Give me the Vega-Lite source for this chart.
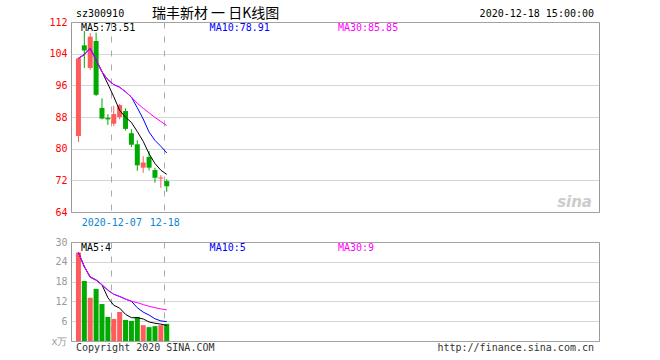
{
  "$schema": "https://vega.github.io/schema/vega-lite/v6.json",
  "background": "white",
  "padding": {"left": 48, "top": 6, "right": 10, "bottom": 4},
  "spacing": 30,
  "bounds": "flush",
  "config": {
    "view": {"stroke": "#999999", "strokeWidth": 1},
    "axis": {"domain": false, "ticks": false, "tickCount": 50, "labelFont": "DejaVu Sans Mono", "labelFontSize": 10, "labelFlush": false, "labelOverlap": false, "labelBound": false},
    "text": {"font": "DejaVu Sans Mono", "fontSize": 10}
  },
  "datasets": {
    "k": [
      {"idx":0,"date":"2020-11-27","open":83.2,"high":103.0,"low":81.7,"close":102.8,"ma5":102.8,"ma10":102.8,"ma30":102.8,"vol":26.8,"vma5":26.8,"vma10":26.8,"vma30":26.8},
      {"idx":1,"date":"2020-11-30","open":106.1,"high":109.7,"low":100.4,"close":104.8,"ma5":103.8,"ma10":103.8,"ma30":103.8,"vol":18.2,"vma5":22.5,"vma10":22.5,"vma30":22.5},
      {"idx":2,"date":"2020-12-01","open":100.4,"high":109.2,"low":99.9,"close":108.3,"ma5":105.3,"ma10":105.3,"ma30":105.3,"vol":13.1,"vma5":19.37,"vma10":19.37,"vma30":19.37},
      {"idx":3,"date":"2020-12-02","open":107.2,"high":109.3,"low":93.3,"close":93.6,"ma5":102.38,"ma10":102.38,"ma30":102.38,"vol":15.8,"vma5":18.48,"vma10":18.48,"vma30":18.48},
      {"idx":4,"date":"2020-12-03","open":90.3,"high":92.7,"low":87.4,"close":87.6,"ma5":99.42,"ma10":99.42,"ma30":99.42,"vol":11.2,"vma5":17.02,"vma10":17.02,"vma30":17.02},
      {"idx":5,"date":"2020-12-04","open":87.8,"high":88.7,"low":86.0,"close":87.4,"ma5":96.34,"ma10":97.42,"ma30":97.42,"vol":7.3,"vma5":13.12,"vma10":15.4,"vma30":15.4},
      {"idx":6,"date":"2020-12-07","open":86.3,"high":90.8,"low":85.7,"close":88.75,"ma5":93.13,"ma10":96.18,"ma30":96.18,"vol":6.7,"vma5":10.82,"vma10":14.16,"vma30":14.16},
      {"idx":7,"date":"2020-12-08","open":88.0,"high":91.3,"low":87.4,"close":91.0,"ma5":89.67,"ma10":95.53,"ma30":95.53,"vol":8.8,"vma5":9.96,"vma10":13.49,"vma30":13.49},
      {"idx":8,"date":"2020-12-09","open":89.5,"high":90.2,"low":84.6,"close":85.0,"ma5":87.95,"ma10":94.36,"ma30":94.36,"vol":6.4,"vma5":8.08,"vma10":12.7,"vma30":12.7},
      {"idx":9,"date":"2020-12-10","open":83.9,"high":84.9,"low":80.4,"close":81.0,"ma5":86.63,"ma10":93.03,"ma30":93.03,"vol":6.1,"vma5":7.06,"vma10":12.04,"vma30":12.04},
      {"idx":10,"date":"2020-12-11","open":81.1,"high":82.1,"low":74.4,"close":75.8,"ma5":84.31,"ma10":90.33,"ma30":91.46,"vol":7.3,"vma5":7.06,"vma10":10.09,"vma30":11.61},
      {"idx":11,"date":"2020-12-14","open":75.2,"high":78.1,"low":73.9,"close":76.5,"ma5":81.86,"ma10":87.5,"ma30":90.21,"vol":4.8,"vma5":6.68,"vma10":8.75,"vma30":11.04},
      {"idx":12,"date":"2020-12-15","open":77.9,"high":79.4,"low":74.5,"close":75.2,"ma5":78.7,"ma10":84.19,"ma30":89.06,"vol":4.2,"vma5":5.76,"vma10":7.86,"vma30":10.52},
      {"idx":13,"date":"2020-12-16","open":74.6,"high":75.2,"low":71.4,"close":72.65,"ma5":76.23,"ma10":82.09,"ma30":87.89,"vol":4.5,"vma5":5.38,"vma10":6.73,"vma30":10.09},
      {"idx":14,"date":"2020-12-17","open":72.45,"high":73.3,"low":70.1,"close":72.7,"ma5":74.57,"ma10":80.6,"ma30":86.87,"vol":4.8,"vma5":5.12,"vma10":6.09,"vma30":9.73},
      {"idx":15,"date":"2020-12-18","open":71.8,"high":72.3,"low":69.1,"close":70.5,"ma5":73.51,"ma10":78.91,"ma30":85.85,"vol":5.2,"vma5":4.7,"vma10":5.88,"vma30":9.45}
    ]
  },
  "vconcat": [
    {
      "width": 528,
      "height": 190,
      "data": {"name": "k"},
      "encoding": {
        "x": {"field": "idx", "type": "quantitative", "title": null,
          "scale": {"domain": [-0.5, 87.5], "nice": false, "zero": false},
          "axis": {"values": [5.5, 14.5], "labelExpr": "datum.value < 10 ? '2020-12-07' : '12-18'", "labelColor": "#0b86d1", "labelPadding": 5, "grid": true, "gridColor": "#aaaaaa", "gridDash": [6, 8]}}
      },
      "layer": [
        {
          "mark": {"type": "rule", "xOffset": -0.5, "strokeWidth": 1},
          "encoding": {
            "y": {"field": "low", "type": "quantitative", "title": null,
              "scale": {"domain": [64, 112], "zero": false, "nice": false},
              "axis": {"values": [64, 72, 80, 88, 96, 104, 112], "tickCount": 50, "format": "d", "labelColor": "#ff0000", "labelPadding": 4, "labelOverlap": false, "grid": true, "gridColor": "#aaaaaa", "gridDash": [1, 1]}},
            "y2": {"field": "high"},
            "color": {"condition": {"test": "datum.close >= datum.open", "value": "#ff5b5b"}, "value": "#00aa00"}
          }
        },
        {
          "mark": {"type": "bar", "size": 5, "xOffset": -0.5},
          "encoding": {
            "y": {"field": "open", "type": "quantitative", "title": null},
            "y2": {"field": "close"},
            "color": {"condition": {"test": "datum.close >= datum.open", "value": "#ff5b5b"}, "value": "#00aa00"}
          }
        },
        {"mark": {"type": "line", "color": "#000000", "strokeWidth": 1, "xOffset": -0.5}, "encoding": {"y": {"field": "ma5", "type": "quantitative", "title": null}}},
        {"mark": {"type": "line", "color": "#0000ff", "strokeWidth": 1, "xOffset": -0.5}, "encoding": {"y": {"field": "ma10", "type": "quantitative", "title": null}}},
        {"mark": {"type": "line", "color": "#ff00ff", "strokeWidth": 1, "xOffset": -0.5}, "encoding": {"y": {"field": "ma30", "type": "quantitative", "title": null}}},
        {"transform": [{"filter": "datum.idx == 15"}], "mark": {"type": "text", "align": "left", "baseline": "middle", "dy": 5.5, "color": "#000000"}, "encoding": {"text": {"value": "MA5:73.51"}, "x": {"datum": 0.35}, "y": {"datum": 112}}},
        {"transform": [{"filter": "datum.idx == 15"}], "mark": {"type": "text", "align": "left", "baseline": "middle", "dy": 5.5, "color": "#0000ff"}, "encoding": {"text": {"value": "MA10:78.91"}, "x": {"datum": 22.2}, "y": {"datum": 112}}},
        {"transform": [{"filter": "datum.idx == 15"}], "mark": {"type": "text", "align": "left", "baseline": "middle", "dy": 5.5, "color": "#ff00ff"}, "encoding": {"text": {"value": "MA30:85.85"}, "x": {"datum": 44.0}, "y": {"datum": 112}}},
        {"transform": [{"filter": "datum.idx == 15"}], "mark": {"type": "text", "align": "left", "baseline": "middle", "dy": -8.5, "color": "#000000"}, "encoding": {"text": {"value": "sz300910"}, "x": {"datum": -0.5}, "y": {"datum": 112}}},
        {"transform": [{"filter": "datum.idx == 15"}], "mark": {"type": "text", "align": "left", "baseline": "middle", "dy": -8.5, "color": "#000000", "font": "Noto Sans CJK SC", "fontSize": 14}, "encoding": {"text": {"value": "瑞丰新材 一 日K线图"}, "x": {"datum": 12.4}, "y": {"datum": 112}}},
        {"transform": [{"filter": "datum.idx == 15"}], "mark": {"type": "text", "align": "right", "baseline": "middle", "dy": -8.5, "color": "#000000"}, "encoding": {"text": {"value": "2020-12-18 15:00:00"}, "x": {"datum": 87.5}, "y": {"datum": 112}}},
        {"transform": [{"filter": "datum.idx == 15"}], "mark": {"type": "text", "align": "right", "baseline": "bottom", "dx": -2, "dy": -2, "color": "#cccccc", "font": "DejaVu Sans", "fontSize": 15, "fontStyle": "italic", "fontWeight": "bold"}, "encoding": {"text": {"value": "sina"}, "x": {"datum": 87.5}, "y": {"datum": 64}}}
      ]
    },
    {
      "width": 528,
      "height": 99,
      "data": {"name": "k"},
      "encoding": {
        "x": {"field": "idx", "type": "quantitative", "title": null,
          "scale": {"domain": [-0.5, 87.5], "nice": false, "zero": false},
          "axis": {"values": [5.5, 14.5], "labels": false, "grid": true, "gridColor": "#aaaaaa", "gridDash": [6, 8]}}
      },
      "layer": [
        {
          "mark": {"type": "bar", "size": 5, "xOffset": -0.5},
          "encoding": {
            "y": {"field": "vol", "type": "quantitative", "title": null,
              "scale": {"domain": [0, 30], "nice": false},
              "axis": {"values": [0, 6, 12, 18, 24, 30], "tickCount": 50, "format": "d", "labelExpr": "datum.value == 0 ? 'x万' : datum.label", "labelColor": "#999999", "labelPadding": 4, "labelOverlap": false, "grid": true, "gridColor": "#aaaaaa", "gridDash": [1, 1]}},
            "color": {"condition": {"test": "datum.close >= datum.open", "value": "#ff5b5b"}, "value": "#00aa00"}
          }
        },
        {"mark": {"type": "line", "color": "#000000", "strokeWidth": 1, "xOffset": -0.5}, "encoding": {"y": {"field": "vma5", "type": "quantitative", "title": null}}},
        {"mark": {"type": "line", "color": "#0000ff", "strokeWidth": 1, "xOffset": -0.5}, "encoding": {"y": {"field": "vma10", "type": "quantitative", "title": null}}},
        {"mark": {"type": "line", "color": "#ff00ff", "strokeWidth": 1, "xOffset": -0.5}, "encoding": {"y": {"field": "vma30", "type": "quantitative", "title": null}}},
        {"transform": [{"filter": "datum.idx == 15"}], "mark": {"type": "text", "align": "left", "baseline": "middle", "dy": 5.5, "color": "#000000"}, "encoding": {"text": {"value": "MA5:4"}, "x": {"datum": 0.35}, "y": {"datum": 30}}},
        {"transform": [{"filter": "datum.idx == 15"}], "mark": {"type": "text", "align": "left", "baseline": "middle", "dy": 5.5, "color": "#0000ff"}, "encoding": {"text": {"value": "MA10:5"}, "x": {"datum": 22.2}, "y": {"datum": 30}}},
        {"transform": [{"filter": "datum.idx == 15"}], "mark": {"type": "text", "align": "left", "baseline": "middle", "dy": 5.5, "color": "#ff00ff"}, "encoding": {"text": {"value": "MA30:9"}, "x": {"datum": 44.0}, "y": {"datum": 30}}},
        {"transform": [{"filter": "datum.idx == 15"}], "mark": {"type": "text", "align": "left", "baseline": "middle", "dy": 7, "color": "#333333"}, "encoding": {"text": {"value": "Copyright 2020 SINA.COM"}, "x": {"datum": -0.5}, "y": {"datum": 0}}},
        {"transform": [{"filter": "datum.idx == 15"}], "mark": {"type": "text", "align": "right", "baseline": "middle", "dy": 7, "color": "#333333"}, "encoding": {"text": {"value": "http://finance.sina.com.cn"}, "x": {"datum": 87.5}, "y": {"datum": 0}}}
      ]
    }
  ]
}
